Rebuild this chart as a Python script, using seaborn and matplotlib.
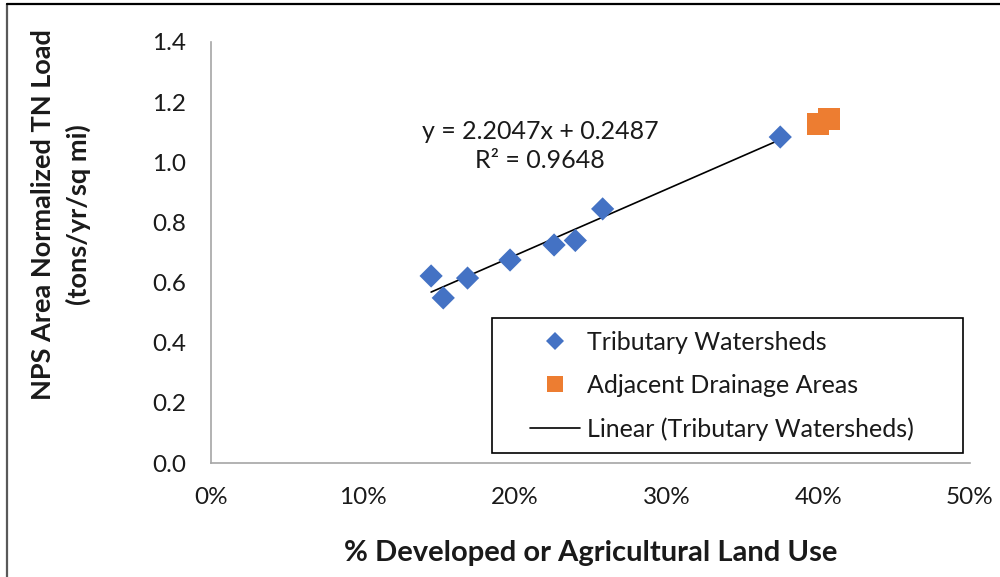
import numpy as np
import pandas as pd
import matplotlib
matplotlib.use("Agg")
import matplotlib.pyplot as plt
from matplotlib.lines import Line2D
from matplotlib.patches import Rectangle
import seaborn as sns

# ---- data ----
trib_x = [0.145, 0.153, 0.169, 0.197, 0.226, 0.240, 0.258, 0.375]
trib_y = [0.622, 0.549, 0.615, 0.675, 0.725, 0.740, 0.845, 1.084]
adj_x = [0.400, 0.407]
adj_y = [1.128, 1.145]
slope = 2.2047
intercept = 0.2487
r2 = 0.9648
series_names = ["Tributary Watersheds", "Adjacent Drainage Areas"]
trend_name = "Linear (Tributary Watersheds)"
x_ticks = [0.0, 0.1, 0.2, 0.3, 0.4, 0.5]
x_tick_labels = ["0%", "10%", "20%", "30%", "40%", "50%"]
y_ticks = [0.0, 0.2, 0.4, 0.6, 0.8, 1.0, 1.2, 1.4]
y_tick_labels = ["0.0", "0.2", "0.4", "0.6", "0.8", "1.0", "1.2", "1.4"]
x_label = "% Developed or Agricultural Land Use"
y_label = "NPS Area Normalized TN Load\n(tons/yr/sq mi)"

BLUE = "#4472C4"
ORANGE = "#ED7D31"
AXIS_GRAY = "#A6A6A6"
TEXT = "#1a1a1a"

sns.set_theme(style="white")
plt.rcParams["font.family"] = ["Lato", "DejaVu Sans"]

df = pd.DataFrame({
    "x": trib_x + adj_x,
    "y": trib_y + adj_y,
    "series": [series_names[0]] * len(trib_x) + [series_names[1]] * len(adj_x),
})

fig = plt.figure(figsize=(10, 5.77), dpi=100)
ax = fig.add_axes([0.211, 1 - 463 / 577, 0.759, (463 - 42) / 577])

sns.scatterplot(data=df, x="x", y="y", hue="series", style="series",
                markers={series_names[0]: "D", series_names[1]: "s"},
                palette={series_names[0]: BLUE, series_names[1]: ORANGE},
                size="series", sizes={series_names[0]: 140, series_names[1]: 250},
                linewidth=0, ax=ax, legend=False, zorder=3)

# trendline over range of tributary data
tx = np.array([min(trib_x), max(trib_x)])
ax.plot(tx, slope * tx + intercept, color="black", lw=1.2, zorder=2)

ax.text(0.2167, 1.054, f"y = {slope}x + {intercept}\nR² = {r2}",
        ha="center", va="center", fontsize=18, color=TEXT, linespacing=1.35)

ax.set_xlim(0, 0.5)
ax.set_ylim(0, 1.4)
ax.set_xticks(x_ticks)
ax.set_xticklabels(x_tick_labels)
ax.set_yticks(y_ticks)
ax.set_yticklabels(y_tick_labels)
ax.tick_params(axis="both", direction="out", length=6, width=1, color=AXIS_GRAY,
               labelsize=17.5, labelcolor=TEXT)
ax.tick_params(axis="y", pad=12)
ax.tick_params(axis="x", pad=11)
for side in ["top", "right"]:
    ax.spines[side].set_visible(False)
for side in ["left", "bottom"]:
    ax.spines[side].set_color(AXIS_GRAY)
    ax.spines[side].set_linewidth(1.2)

ax.set_xlabel(x_label, fontsize=21, fontweight="bold", color=TEXT)
ax.set_ylabel(y_label, fontsize=19.5, fontweight="bold", color=TEXT, linespacing=1.5)
ax.xaxis.set_label_coords(0.50, -0.184)
ax.yaxis.set_label_coords(-0.158, 0.589)

handles = [
    Line2D([], [], marker="D", color=BLUE, linestyle="none", markersize=9, markeredgewidth=0),
    Line2D([], [], marker="s", color=ORANGE, linestyle="none", markersize=12, markeredgewidth=0),
    Line2D([], [], color="black", lw=1.2),
]
leg = ax.legend(handles, [series_names[0], series_names[1], trend_name],
                loc="center left", bbox_to_anchor=(0.420, 0.183),
                borderaxespad=0, fontsize=18, frameon=False,
                handlelength=2.0, handletextpad=0.3,
                labelspacing=0.8, borderpad=0)
for t in leg.get_texts():
    t.set_color(TEXT)
# legend frame (Excel-style rectangular box)
ax.add_patch(Rectangle((0.370, 0.024), 0.621, 0.320, transform=ax.transAxes,
                       facecolor="white", edgecolor="black", lw=1.2, zorder=4))
leg.set_zorder(5)

# outer chart border (partially visible in reference)
fig.add_artist(Line2D([7 / 1000, 7 / 1000], [0, 1 - 4 / 577], transform=fig.transFigure,
                      color="#595959", lw=1.6))
fig.add_artist(Line2D([7 / 1000, 1], [1 - 4 / 577, 1 - 4 / 577], transform=fig.transFigure,
                      color="black", lw=1.6))

fig.savefig("out.png", dpi=100)
